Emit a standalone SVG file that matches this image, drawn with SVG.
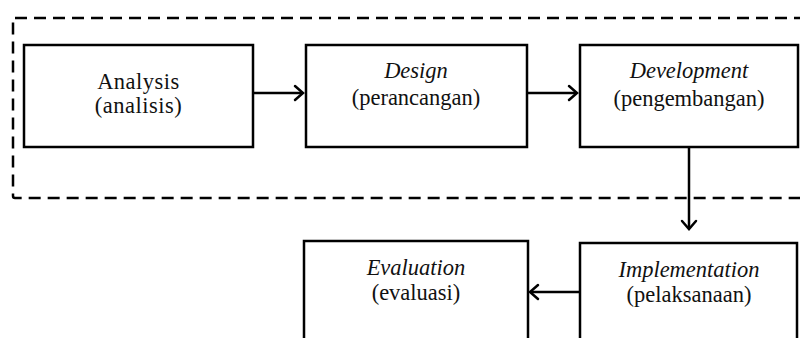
<svg xmlns="http://www.w3.org/2000/svg" width="800" height="338" viewBox="0 0 800 338">
<defs>
<style>
.box{fill:#fff;stroke:#000;stroke-width:2.5}
.lbl{font-family:"Liberation Serif","Times New Roman",serif;font-size:22.5px;fill:#111;text-anchor:middle}
.it{font-style:italic}
.conn{fill:none;stroke:#000;stroke-width:2.5}
.head{fill:none;stroke:#000;stroke-width:2.5;stroke-linecap:round;stroke-linejoin:miter}
</style>
</defs>
<rect width="800" height="338" fill="#fff"/>
<rect x="13" y="18" width="800" height="180" rx="2" fill="none" stroke="#000" stroke-width="2.5" stroke-dasharray="12 7"/>
<g id="analysis">
<rect class="box" x="24" y="45" width="229" height="102"/>
<text class="lbl" x="138.5" y="89" letter-spacing="0.5">Analysis</text>
<text class="lbl" x="138.5" y="113" letter-spacing="0.5">(analisis)</text>
</g>
<g id="design">
<rect class="box" x="306" y="45" width="221" height="102"/>
<text class="lbl it" x="416" y="78">Design</text>
<text class="lbl" x="416" y="105">(perancangan)</text>
</g>
<g id="development">
<rect class="box" x="580" y="45" width="218" height="102"/>
<text class="lbl it" x="689" y="78">Development</text>
<text class="lbl" x="689" y="106">(pengembangan)</text>
</g>
<g id="evaluation">
<rect class="box" x="304" y="241" width="224" height="110"/>
<text class="lbl it" x="416" y="275">Evaluation</text>
<text class="lbl" x="416" y="300">(evaluasi)</text>
</g>
<g id="implementation">
<rect class="box" x="580" y="243" width="217" height="110"/>
<text class="lbl it" x="689" y="277">Implementation</text>
<text class="lbl" x="689" y="302">(pelaksanaan)</text>
</g>
<g id="connectors">
<line class="conn" x1="253" y1="93" x2="302" y2="93"/>
<polyline class="head" points="295,86 303,93 295,100"/>
<line class="conn" x1="527" y1="93" x2="576" y2="93"/>
<polyline class="head" points="569,86 577,93 569,100"/>
<line class="conn" x1="689" y1="147" x2="689" y2="228"/>
<polyline class="head" points="682,221 689,229 696,221"/>
<line class="conn" x1="580" y1="292" x2="531" y2="292"/>
<polyline class="head" points="538,285 530,292 538,299"/>
</g>
</svg>
